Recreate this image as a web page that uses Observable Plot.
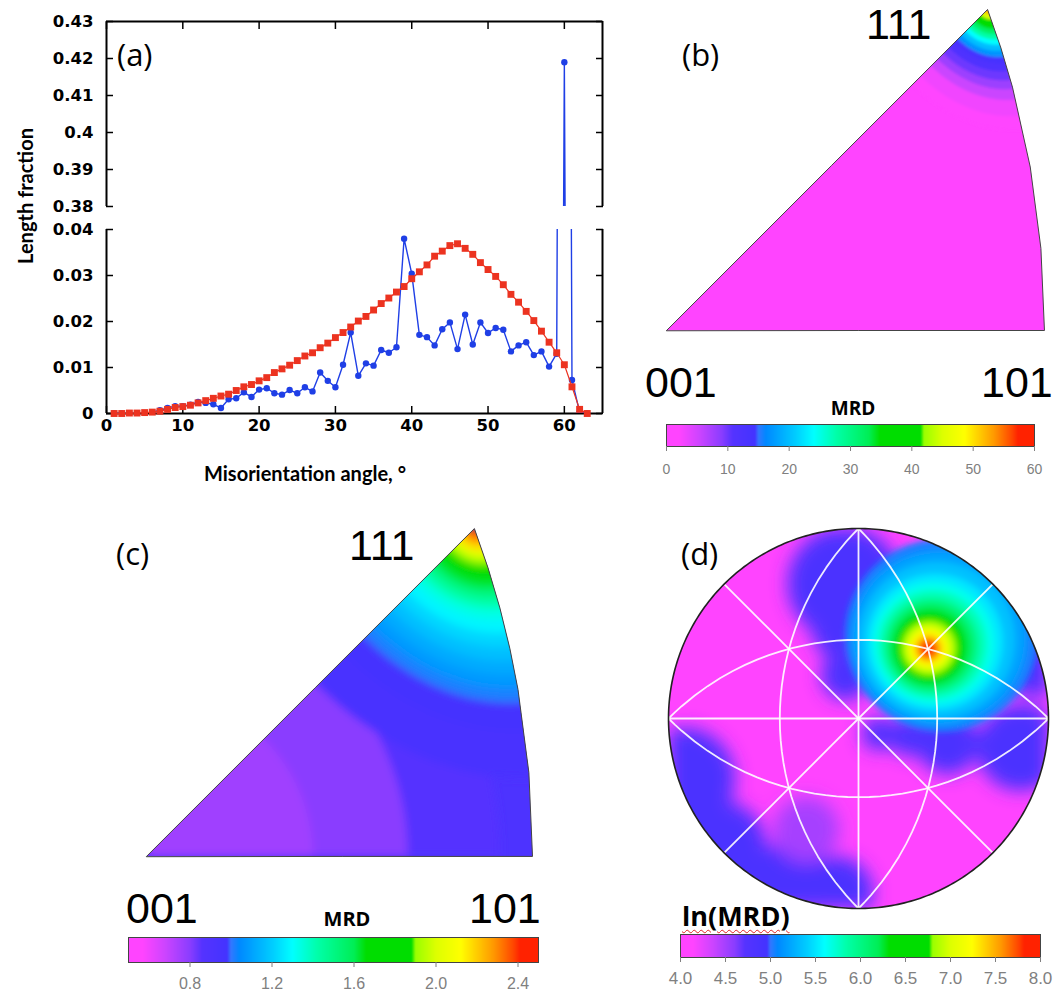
<!DOCTYPE html>
<html>
<head>
<meta charset="utf-8">
<script src="https://cdn.jsdelivr.net/npm/d3@7"></script>
<script src="https://cdn.jsdelivr.net/npm/@observablehq/plot@0.6"></script>
<style>
  html, body { margin: 0; padding: 0; background: #fff; }
  #root { position: relative; width: 1054px; height: 999px; overflow: hidden; background: #fff; }
  #root > svg, #root > div { position: absolute; }
</style>
</head>
<body>
<div id="root"></div>
<script>
// ---------------- Panel (a): misorientation angle distribution ----------------
const angles = [1,2,3,4,5,6,7,8,9,10,11,12,13,14,15,16,17,18,19,20,21,22,23,24,25,26,27,28,29,30,
  31,32,33,34,35,36,37,38,39,40,41,42,43,44,45,46,47,48,49,50,51,52,53,54,55,56,57,58,59,60,61,62,63];
const randomFraction = [0.0000,0.0000,0.0001,0.0001,0.0002,0.0003,0.0005,0.0009,0.0013,0.0015,
  0.0018,0.0023,0.0028,0.0033,0.0038,0.0042,0.0050,0.0058,0.0063,0.0071,
  0.0078,0.0089,0.0097,0.0105,0.0115,0.0125,0.0132,0.0143,0.0153,0.0165,
  0.0176,0.0188,0.0201,0.0211,0.0225,0.0239,0.0251,0.0264,0.0276,0.0293,
  0.0308,0.0323,0.0342,0.0353,0.0365,0.0369,0.0359,0.0346,0.0328,0.0313,
  0.0298,0.0280,0.0259,0.0242,0.0222,0.0202,0.0179,0.0155,0.0132,0.0106,
  0.0058,0.0009,0.0000];
const measuredFraction = [0.0000,0.0000,0.0000,0.0000,0.0000,0.0003,0.0007,0.0012,0.0016,0.0016,
  0.0019,0.0025,0.0023,0.0020,0.0012,0.0031,0.0033,0.0046,0.0036,0.0052,
  0.0055,0.0044,0.0041,0.0051,0.0044,0.0057,0.0048,0.0089,0.0071,0.0057,
  0.0106,0.0176,0.0082,0.0109,0.0104,0.0138,0.0132,0.0144,0.0380,0.0304,
  0.0171,0.0166,0.0148,0.0183,0.0198,0.0140,0.0215,0.0150,0.0198,0.0175,
  0.0186,0.0182,0.0135,0.0148,0.0155,0.0127,0.0135,0.0102,0.0130,0.4190,
  0.0073,0.0003,0.0000];
const xTicks = [0,10,20,30,40,50,60];
const lowerTicks = [0,0.01,0.02,0.03,0.04];
const lowerTickLabels = ["0","0.01","0.02","0.03","0.04"];
const upperTicks = [0.38,0.39,0.40,0.41,0.42,0.43];
const upperTickLabels = ["0.38","0.39","0.4","0.41","0.42","0.43"];

// ---------------- Colour map (shared by the three MRD legends) ----------------
const cmapT = [0,0.035,0.09,0.15,0.18,0.24,0.25,0.27,0.35,0.40,0.46,0.55,0.58,0.69,0.70,0.75,0.81,0.89,0.94,0.955,1];
const cmapC = ["#ff44ff","#ff44ff","#cc44ff","#8a3dff","#5533ff","#4433ff","#3377ff","#0088ff","#00ccff","#00ffff",
  "#00ffaa","#00ee55","#00dd00","#00dd00","#99ff00","#ddff00","#ffff00","#ff9900","#ff4400","#ff2200","#ff2200"];

// ---------------- Panel (b): inverse pole figure, MRD 0-60 ----------------
const bDomain = [0, 60];
const bTicks = [0,10,20,30,40,50,60];
const bTickLabels = ["0","10","20","30","40","50","60"];
const bBaseMRD = 0;
const bRingRadius = [13.5, 12, 10.2, 9, 8, 7, 6.1, 5.4, 4.7, 4.0, 3.4, 2.8, 2.2, 1.7, 1.1, 0.55];
const bRingMRD    = [1, 3, 5.5, 8, 10, 12, 14, 17, 20, 24, 28, 32, 36, 40, 45, 52];

// ---------------- Panel (c): inverse pole figure, MRD 0.5-2.5 ----------------
const cDomain = [0.5, 2.5];
const cTicks = [0.8,1.2,1.6,2.0,2.4];
const cTickLabels = ["0.8","1.2","1.6","2.0","2.4"];
const cBaseMRD = 0.92;
const c001Radius = [41, 30, 19];
const c001MRD    = [0.86, 0.80, 0.76];
const c111Radius = [27, 22, 19, 17.5, 16, 14.5, 13, 11.5, 10, 8.8, 7.7, 6.6, 5.6, 4.8, 4.0, 3.2, 2.4, 1.6, 0.8];
const c111MRD    = [0.95, 0.98, 1.02, 1.08, 1.12, 1.17, 1.22, 1.28, 1.34, 1.42, 1.52, 1.63, 1.72, 1.80, 1.92, 2.05, 2.18, 2.30, 2.40];

// ---------------- Panel (d): pole figure, ln(MRD) 4-8 ----------------
const dDomain = [4, 8];
const dTicks = [4.0,4.5,5.0,5.5,6.0,6.5,7.0,7.5,8.0];
const dTickLabels = ["4.0","4.5","5.0","5.5","6.0","6.5","7.0","7.5","8.0"];
const dBaseLnMRD = 4.08;
const dBlobLon = [-14, -16, -8, 89, 12, 30, 50, 80, -86, -87, -80, -53, -42];
const dBlobLat = [ 67,  47, 25, 21, -9, -10, -12, -10, -19, -43, -67, -81, -55];
const dBlobR   = [ 23,  12, 14, 14, 10, 11, 15, 15,  16,  14,  14,  12,  14];
const dBlobV   = [4.85,4.85,4.85,4.85,4.8,4.85,4.85,4.85,4.85,4.85,4.85,4.85,4.5];
const dHotCenter = [45, 35.264];
const dHotRadius = [42, 38.5, 35, 31, 28, 25, 22, 19.5, 17, 14.5, 12.8, 10.5, 8.6, 6.5, 4.8, 3.2, 1.8];
const dHotLnMRD  = [5.05, 5.2, 5.35, 5.5, 5.65, 5.8, 6.0, 6.2, 6.45, 6.65, 6.85, 7.05, 7.25, 7.45, 7.65, 7.82, 7.95];
// traces of {100} and {110} planes (great circles) in the standard projection
const pfGreatCircles = [
  [[0,-90],[0,0],[0,90]],
  [[-90,0],[0,0],[90,0]],
  [[-90,-45],[0,0],[90,45]],
  [[-90,45],[0,0],[90,-45]],
  [[-90,0],[0,45],[90,0]],
  [[-90,0],[0,-45],[90,0]],
  [[0,90],[-45,0],[0,-90]],
  [[0,90],[45,0],[0,-90]]
];
// standard triangle 001 - 111 - 101 (lon/lat of the crystal directions)
const dir001 = [0, 0], dir111 = [45, 35.264], dir101 = [45, 0];

// =====================================================================
const root = document.getElementById("root");
const NS = "http://www.w3.org/2000/svg";
const BLUE = "#1f3fe6", RED = "#ec3320";
const cmapScale = d3.scaleLinear().domain(cmapT).range(cmapC).interpolate(d3.interpolateRgb).clamp(true);
const mrdInterp = (t) => cmapScale(t);
const tp = {background: "transparent", overflow: "visible", color: "black"};

function place(node, left, top) {
  node.style.position = "absolute";
  node.style.left = left + "px";
  node.style.top = top + "px";
  root.appendChild(node);
  return node;
}
const fmt = (ticks, labels) => { const m = new Map(ticks.map((t, i) => [t, labels[i]])); return d => m.get(d) ?? ""; };
const axisFont = {fontFamily: "DejaVu Sans", fontSize: 16.5, fontWeight: "bold"};

// ---- (a) lower part ----
const lower = Plot.plot({
  width: 612, height: 246, marginLeft: 106, marginRight: 10, marginTop: 22, marginBottom: 40,
  style: tp,
  x: {domain: [0, 65]}, y: {domain: [0, 0.04]},
  marks: [
    Plot.ruleX([0, 65], {strokeWidth: 2}),
    Plot.ruleY([0], {strokeWidth: 2}),
    Plot.axisY({anchor: "left", ticks: lowerTicks, tickSize: -7, tickPadding: 20, strokeWidth: 1.5, tickFormat: fmt(lowerTicks, lowerTickLabels), label: null, ...axisFont}),
    Plot.axisY({anchor: "right", ticks: lowerTicks, tickSize: -7, strokeWidth: 1.5, tickFormat: () => "", label: null}),
    Plot.axisX({anchor: "bottom", ticks: xTicks, tickSize: -7, tickPadding: 13, strokeWidth: 1.5, tickFormat: d => String(d), label: null, ...axisFont}),
    Plot.line(angles, {x: angles, y: measuredFraction, stroke: BLUE, strokeWidth: 1.4, clip: true}),
    Plot.dot(angles, {x: angles, y: measuredFraction, r: 3.2, fill: BLUE, clip: true}),
    Plot.line(angles, {x: angles, y: randomFraction, stroke: RED, strokeWidth: 1.2}),
    Plot.dot(angles, {x: angles, y: randomFraction, symbol: "square", r: 3.9, fill: RED})
  ]
});
place(lower, 0, 207);

// ---- (a) upper part (axis break) ----
const upper = Plot.plot({
  width: 612, height: 207, marginLeft: 106, marginRight: 10, marginTop: 21, marginBottom: 1,
  style: tp,
  x: {domain: [0, 65]}, y: {domain: [0.38, 0.43]},
  marks: [
    Plot.ruleX([0, 65], {strokeWidth: 2}),
    Plot.ruleY([0.43], {strokeWidth: 2}),
    Plot.axisY({anchor: "left", ticks: upperTicks, tickSize: -7, tickPadding: 20, strokeWidth: 1.5, tickFormat: fmt(upperTicks, upperTickLabels), label: null, ...axisFont}),
    Plot.axisY({anchor: "right", ticks: upperTicks, tickSize: -7, strokeWidth: 1.5, tickFormat: () => "", label: null}),
    Plot.axisX({anchor: "top", ticks: xTicks, tickSize: -7, strokeWidth: 1.5, tickFormat: () => "", label: null}),
    Plot.line(angles, {x: angles, y: measuredFraction, stroke: BLUE, strokeWidth: 1.4, clip: true}),
    Plot.dot(angles, {x: angles, y: measuredFraction, r: 3.2, fill: BLUE, clip: true})
  ]
});
place(upper, 0, 0);

// ---- helpers for the pole figures ----
function feature(geometry, v) { return {type: "Feature", properties: {v}, geometry}; }
function rings(lon, lat, radii, values) {
  return radii.map((r, i) => feature(d3.geoCircle().center([lon, lat]).radius(r).precision(1)(), values[i]));
}
function blobs(lons, lats, rs, vs) {
  return lons.map((lon, i) => feature(d3.geoCircle().center([lon, lats[i]]).radius(rs[i]).precision(1)(), vs[i]));
}
let tri = {type: "Polygon", coordinates: [[dir001, dir111, dir101, dir001]]};
if (d3.geoArea(tri) > 2 * Math.PI) tri = {type: "Polygon", coordinates: [[dir001, dir101, dir111, dir001]]};
const hemisphere = d3.geoCircle().center([0, 0]).radius(90).precision(1)();

let fxId = 0;
// clip the given geo layers to the outline layer, and soften them with a blur (blur first, then clip)
function softClip(svg, layers, outlineIdx) {
  const gs = svg.querySelectorAll('g[aria-label="geo"]');
  const outline = gs[outlineIdx] && gs[outlineIdx].querySelector("path");
  if (!outline) return;
  const W = +svg.getAttribute("width"), H = +svg.getAttribute("height");
  const defs = document.createElementNS(NS, "defs");
  const cid = "pf-clip-" + (fxId++);
  const cp = document.createElementNS(NS, "clipPath");
  cp.setAttribute("id", cid);
  const p = document.createElementNS(NS, "path");
  p.setAttribute("d", outline.getAttribute("d"));
  cp.appendChild(p);
  defs.appendChild(cp);
  layers.forEach(([idx, blur]) => {
    const g = gs[idx];
    if (!g) return;
    if (blur > 0) {
      const fid = "pf-blur-" + (fxId++);
      const f = document.createElementNS(NS, "filter");
      f.setAttribute("id", fid);
      f.setAttribute("filterUnits", "userSpaceOnUse");
      f.setAttribute("x", -200); f.setAttribute("y", -200);
      f.setAttribute("width", W + 400); f.setAttribute("height", H + 400);
      const gb = document.createElementNS(NS, "feGaussianBlur");
      gb.setAttribute("stdDeviation", blur);
      f.appendChild(gb);
      defs.appendChild(f);
      g.setAttribute("filter", `url(#${fid})`);
    }
    g.setAttribute("clip-path", `url(#${cid})`);
  });
  svg.insertBefore(defs, svg.firstChild);
}

function trianglePlot(left, top, w, h, domain, base, ringSets, blur) {
  const all = [].concat(...ringSets);
  const svg = Plot.plot({
    width: w + 20, height: h + 20, margin: 10, style: tp,
    projection: {type: "azimuthal-equal-area", domain: tri},
    color: {type: "linear", domain, interpolate: mrdInterp},
    marks: [
      Plot.geo([feature(tri, base)], {fill: d => d.properties.v, stroke: "none"}),
      Plot.geo(all, {fill: d => d.properties.v, stroke: "none"}),
      Plot.geo([tri], {stroke: "#444", strokeWidth: 1, fill: "none"})
    ]
  });
  softClip(svg, [[1, blur]], 2);
  return place(svg, left, top);
}

trianglePlot(655, -1, 380, 321, bDomain, bBaseMRD, [rings(dir111[0], dir111[1], bRingRadius, bRingMRD)], 1.5);
trianglePlot(136, 518, 386, 328, cDomain, cBaseMRD, [
  rings(dir001[0], dir001[1], c001Radius, c001MRD),
  rings(dir111[0], dir111[1], c111Radius, c111MRD)
], 4);

// ---- (d) pole figure ----
const pf = Plot.plot({
  width: 400, height: 400, margin: 10, style: tp,
  projection: {type: "stereographic", domain: hemisphere},
  color: {type: "linear", domain: dDomain, interpolate: mrdInterp},
  marks: [
    Plot.geo([feature(hemisphere, dBaseLnMRD)], {fill: d => d.properties.v, stroke: "none"}),
    Plot.geo(blobs(dBlobLon, dBlobLat, dBlobR, dBlobV), {fill: d => d.properties.v, stroke: "none"}),
    Plot.geo(rings(dHotCenter[0], dHotCenter[1], dHotRadius, dHotLnMRD), {fill: d => d.properties.v, stroke: "none"}),
    Plot.geo(pfGreatCircles.map(c => ({type: "LineString", coordinates: c})), {stroke: "white", strokeWidth: 1.8, strokeOpacity: 0.9, fill: "none"}),
    Plot.geo([hemisphere], {stroke: "#222", strokeWidth: 1.6, fill: "none"})
  ]
});
softClip(pf, [[1, 9], [2, 3]], 4);
place(pf, 657.5, 518);

// ---- colour bars ----
function colorbar(left, top, w, h, domain, ticks, labels, fontSize, pad) {
  const m = 20;
  const svg = Plot.plot({
    width: w + 2 * m, height: h + 40, marginLeft: m, marginRight: m, marginTop: 0, marginBottom: 40,
    style: tp,
    x: {domain}, y: {domain: [0, 1], axis: null},
    color: {type: "linear", domain, interpolate: mrdInterp},
    marks: [
      Plot.raster({fill: (x, y) => x, x1: domain[0], x2: domain[1], y1: 0, y2: 1}),
      Plot.frame({stroke: "#444", strokeWidth: 1}),
      Plot.axisX({anchor: "bottom", ticks, tickSize: 5, tickPadding: pad, tickFormat: fmt(ticks, labels),
        color: "#808080", fontFamily: "Liberation Sans", fontSize, label: null})
    ]
  });
  return place(svg, left - m, top);
}
colorbar(666, 424, 368, 22, bDomain, bTicks, bTickLabels, 14, 13);
colorbar(128, 937, 410, 25, cDomain, cTicks, cTickLabels, 16, 10);
colorbar(680, 934, 360, 23, dDomain, dTicks, dTickLabels, 17, 9);

// ---- text overlay ----
const over = d3.create("svg").attr("width", 1054).attr("height", 999)
  .style("position", "absolute").style("left", "0px").style("top", "0px").style("overflow", "visible");
function txt(s, x, y, o = {}) {
  const t = over.append("text").attr("x", x).attr("y", y).text(s)
    .attr("font-family", o.family || "Liberation Sans")
    .attr("font-size", o.size || 16)
    .attr("font-weight", o.weight || "normal")
    .attr("text-anchor", o.anchor || "start")
    .attr("fill", o.fill || "#000");
  if (o.transform) t.attr("transform", o.transform).attr("x", 0).attr("y", 0);
  return t;
}
const panelFont = {family: "Open Sans", size: 31};
txt("(a)", 117, 66, panelFont);
txt("(b)", 682, 66, panelFont);
txt("(c)", 116, 565, panelFont);
txt("(d)", 681, 565, panelFont);
const hkl = {family: "Liberation Sans", size: 43};
txt("111", 866, 39, hkl); txt("001", 645, 397, hkl); txt("101", 981, 397, hkl);
txt("111", 349, 560, hkl); txt("001", 126, 923, hkl); txt("101", 469, 923, hkl);
txt("MRD", 853, 415, {family: "Open Sans", size: 19, weight: "bold", anchor: "middle"});
txt("MRD", 347, 926, {family: "Open Sans", size: 20, weight: "bold", anchor: "middle"});
txt("Length fraction", 0, 0, {family: "Lato", size: 20, weight: "bold", anchor: "middle", transform: "translate(33,196) rotate(-90)"});
txt("Misorientation angle, °", 305, 481, {family: "Lato", size: 20, weight: "bold", anchor: "middle"});
root.appendChild(over.node());

const ln = document.createElement("div");
ln.textContent = "ln(MRD)";
Object.assign(ln.style, {font: "bold 27px 'Open Sans'", lineHeight: "27px", textDecoration: "underline wavy #e02020",
  textDecorationThickness: "1px", textUnderlineOffset: "3px", whiteSpace: "nowrap", color: "#000"});
place(ln, 682, 902);
</script>
</body>
</html>
